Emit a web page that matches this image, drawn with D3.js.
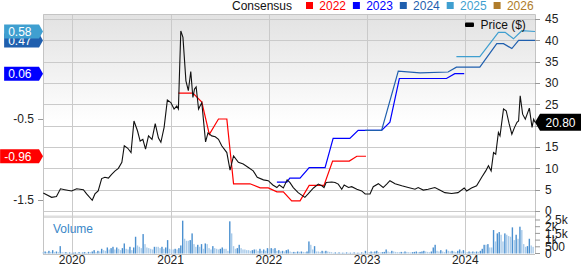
<!DOCTYPE html>
<html>
<head>
<meta charset="utf-8">
<script src="https://cdn.jsdelivr.net/npm/d3@7"></script>
<style>
	body { margin: 0; background: #fff; }
	svg { display: block; font-family: "Liberation Sans", Arial, sans-serif; }
	.tick-label { font-size: 12px; fill: #222; }
</style>
</head>
<body>
<div id="chart"></div>
<script>

///////////////////////////////////////////////////////////////////////////
//////////////////////////////// Data /////////////////////////////////////
///////////////////////////////////////////////////////////////////////////

var years = ["2022", "2023", "2024", "2025", "2026"];
var yearColors = ["#ff0000", "#0000ff", "#1f5fae", "#3f9fd0", "#b07c2a"];

//Weekly close
var priceData = [
	["2019-09-16",4.2],["2019-10-17",3.2],["2019-11-04",3.4],["2019-11-19",5.2],["2019-12-05",5.0],
	["2019-12-30",4.7],["2020-01-18",5.2],["2020-02-12",5.0],["2020-02-24",4.0],["2020-03-16",2.5],
	["2020-03-26",4.0],["2020-04-07",4.7],["2020-04-20",7.6],["2020-05-02",7.9],["2020-05-15",7.7],
	["2020-05-27",8.6],["2020-06-09",9.4],["2020-06-21",10.0],["2020-07-04",11.4],["2020-07-13",15.3],
	["2020-07-26",14.7],["2020-08-07",13.7],["2020-08-18",21.1],["2020-08-31",18.8],["2020-09-10",16.4],
	["2020-09-20",16.8],["2020-09-30",14.5],["2020-10-11",17.6],["2020-10-24",16.8],["2020-11-05",20.5],
	["2020-11-17",17.1],["2020-11-26",16.1],["2020-12-08",19.6],["2020-12-20",26.0],["2021-01-02",25.4],
	["2021-01-14",23.9],["2021-01-24",24.6],["2021-01-30",23.9],["2021-02-08",42.2],["2021-02-16",40.7],
	["2021-02-27",30.5],["2021-03-08",28.2],["2021-03-17",32.7],["2021-03-25",26.6],["2021-03-31",28.6],
	["2021-04-06",29.1],["2021-04-15",23.9],["2021-04-27",25.4],["2021-05-11",16.2],["2021-05-20",18.3],
	["2021-06-03",17.6],["2021-06-16",17.4],["2021-06-28",16.8],["2021-07-10",15.3],["2021-07-29",13.7],
	["2021-08-10",9.6],["2021-08-23",12.9],["2021-09-10",11.4],["2021-09-28",11.0],["2021-10-17",10.2],
	["2021-11-04",9.4],["2021-11-19",7.9],["2021-12-12",7.3],["2021-12-30",7.1],["2022-01-16",6.1],
	["2022-01-31",5.5],["2022-02-09",6.1],["2022-02-24",5.4],["2022-03-10",7.3],["2022-03-20",6.7],
	["2022-04-02",5.5],["2022-04-20",4.3],["2022-05-15",3.2],["2022-05-27",4.0],["2022-06-16",5.4],
	["2022-07-04",6.3],["2022-07-17",5.9],["2022-07-25",5.5],["2022-08-02",6.7],["2022-08-23",6.8],
	["2022-09-04",6.7],["2022-09-16",6.3],["2022-09-29",5.1],["2022-10-08",6.1],["2022-10-24",5.5],
	["2022-11-05",5.7],["2022-11-24",5.1],["2022-12-12",4.7],["2022-12-25",4.0],["2023-01-12",4.0],
	["2023-01-24",5.7],["2023-02-12",6.4],["2023-03-02",5.5],["2023-03-15",6.3],["2023-03-27",7.1],
	["2023-04-15",6.4],["2023-05-10",5.9],["2023-06-03",5.5],["2023-06-28",5.1],["2023-07-10",5.5],
	["2023-07-29",4.9],["2023-08-16",5.1],["2023-09-10",5.5],["2023-09-28",4.9],["2023-10-17",4.3],
	["2023-11-11",4.1],["2023-12-05",4.3],["2023-12-28",5.4],["2024-01-06",4.7],["2024-01-24",5.4],
	["2024-02-12",5.9],["2024-03-02",7.9],["2024-03-17",9.4],["2024-03-27",10.6],["2024-04-06",9.4],
	["2024-04-15",13.7],["2024-04-23",13.3],["2024-05-03",18.4],["2024-05-09",17.6],["2024-05-22",23.9],
	["2024-06-01",23.5],["2024-06-12",20.4],["2024-06-22",18.0],["2024-07-02",19.6],["2024-07-11",20.8],
	["2024-07-17",21.1],["2024-07-23",27.0],["2024-08-01",22.7],["2024-08-11",21.5],["2024-08-26",24.1],
	["2024-09-05",19.6],["2024-09-11",21.5],["2024-09-16",20.8]
];
var lastPrice = 20.80;

//Consensus EPS per fiscal year
var eps2022 = [
	["2021-01-30",-0.18],["2021-03-25",-0.18],["2021-04-27",-0.29],["2021-05-25",-0.69],["2021-06-28",-0.50],
	["2021-07-29",-0.50],["2021-08-23",-1.30],["2021-10-23",-1.30],["2021-11-30",-1.35],["2021-12-30",-1.35],
	["2022-01-31",-1.40],["2022-02-24",-1.40],["2022-03-27",-1.51],["2022-04-27",-1.51],["2022-05-31",-1.32],
	["2022-07-25",-1.32],["2022-08-26",-1.02],["2022-10-27",-1.02],["2022-11-24",-0.96],["2022-12-28",-0.96]
];
var eps2023 = [
	["2022-01-31",-1.28],["2022-03-09",-1.28],["2022-03-20",-1.23],["2022-04-27",-1.23],["2022-05-31",-1.10],
	["2022-07-29",-1.10],["2022-08-28",-0.74],["2022-10-29",-0.74],["2022-11-29",-0.64],["2023-02-24",-0.64],
	["2023-03-27",-0.54],["2023-05-01",0.00],["2023-10-23",0.00],["2023-11-23",0.06],["2023-12-28",0.06]
];
var eps2024 = [
	["2022-12-25",-0.64],["2023-02-24",-0.64],["2023-04-27",0.09],["2023-07-17",0.07],["2023-10-29",0.08],
	["2023-11-29",0.14],["2024-02-24",0.14],["2024-04-27",0.43],["2024-05-22",0.43],["2024-06-22",0.37],
	["2024-07-17",0.47],["2024-09-16",0.47]
];
var eps2025 = [
	["2023-11-29",0.27],["2024-02-24",0.27],["2024-05-03",0.57],["2024-05-28",0.57],["2024-06-28",0.49],
	["2024-07-29",0.59],["2024-09-16",0.58]
];
var eps2026 = [];

//Weekly volume (thousands), starting week of 2019-09-16
var volumeStart = "2019-09-16";
var volumeData = [
	0.1,0.15,0.1,0.2,0.12,0.25,0.1,0.15,0.1,0.55,0.1,0.08,0.1,0.06,0.08,0.05,0.06,0.08,0.05,0.1,
	0.06,0.08,0.1,0.05,0.12,0.1,0.15,0.25,0.1,0.2,0.15,0.35,0.25,0.2,0.45,0.3,0.4,0.5,0.3,0.45,
	0.35,0.25,0.4,0.75,0.35,0.3,0.5,0.25,0.45,1.25,0.6,0.5,0.4,1.45,0.7,0.45,0.4,0.35,0.3,0.5,
	0.5,0.5,0.4,0.5,0.35,0.45,1.0,0.35,0.3,0.3,0.35,0.3,0.4,0.6,2.45,1.1,0.95,0.95,1.0,1.5,
	0.7,0.5,0.65,0.5,0.7,0.35,0.75,0.7,0.4,0.3,0.55,0.4,0.35,0.3,0.35,0.45,0.35,0.35,0.2,2.4,
	1.5,0.55,0.35,0.4,0.65,0.4,0.3,0.3,0.25,0.25,0.2,0.25,0.3,0.3,0.2,0.35,0.2,0.3,0.2,0.4,
	0.35,0.4,0.35,0.4,0.2,0.25,0.15,0.2,0.15,0.25,0.3,0.15,0.1,0.12,0.1,0.15,0.12,0.15,0.12,0.1,
	0.15,0.9,0.65,0.3,0.55,0.15,0.15,0.12,0.2,0.15,0.2,0.15,0.12,0.1,0.05,0.08,0.05,0.08,0.05,0.06,
	0.05,0.08,0.05,0.06,0.05,0.08,0.05,0.06,0.05,0.08,0.05,0.2,0.1,0.1,0.15,0.12,0.15,0.2,0.1,0.08,
	0.1,0.12,0.3,0.15,0.1,0.2,0.15,0.12,0.1,0.1,0.12,0.1,0.15,0.12,0.1,0.08,0.1,0.12,0.15,0.1,
	0.12,0.15,0.2,0.15,0.12,0.1,0.15,0.45,0.65,0.2,0.15,0.25,0.15,0.1,0.3,0.2,0.15,0.2,0.15,0.1,
	0.2,0.3,0.15,0.25,0.15,0.1,0.15,0.12,0.15,0.12,0.15,0.12,0.2,0.35,0.65,0.65,0.7,0.45,0.45,1.75,
	0.9,1.5,1.6,1.4,0.9,1.5,1.4,1.3,1.25,1.95,1.0,1.4,1.1,2.0,1.75,0.7,0.5,0.55,1.1,0.6,0.5
];

var priceTicks = [0, 5, 10, 15, 20, 25, 30, 35, 40, 45];
var epsTicks = [-1.5, -0.5];
var epsTickLabels = ["-1.5", "-0.5"];
var volumeTicks = [0, 0.5, 1, 1.5, 2, 2.5];
var volumeTickLabels = ["0", "500", "1k", "1.5k", "2k", "2.5k"];

///////////////////////////////////////////////////////////////////////////
/////////////////////////////// Set-up SVG ////////////////////////////////
///////////////////////////////////////////////////////////////////////////

var width = 581;
var height = 265;
var left = 43, right = 535;
var mainTop = 14, mainBottom = 213;
var volTop = 218, volBottom = 254;

var parse = d3.timeParse("%Y-%m-%d");

var svg = d3.select("#chart")
	.append("svg")
	.attr("width", width)
	.attr("height", height);

var x = d3.scaleTime()
	.domain([parse("2019-09-15"), parse("2024-09-16")])
	.range([left, right]);

var yPrice = d3.scaleLinear().domain([0, 45]).range([211, 19]);
var yEps = d3.scaleLinear().domain([-1.5, -0.5]).range([200, 119]);
var yVol = d3.scaleLinear().domain([0, 2.5]).range([253.5, 220]);

//Background gradient of the price panel
var grad = svg.append("defs").append("linearGradient")
	.attr("id", "bg-grad")
	.attr("gradientUnits", "userSpaceOnUse")
	.attr("x1", 0).attr("x2", 0)
	.attr("y1", mainTop).attr("y2", mainBottom);
grad.append("stop").attr("offset", "0%").attr("stop-color", "#e2e2e2");
grad.append("stop").attr("offset", "55%").attr("stop-color", "#ffffff");

svg.append("rect")
	.attr("x", left).attr("y", mainTop)
	.attr("width", right - left).attr("height", mainBottom - mainTop)
	.style("fill", "url(#bg-grad)");

//Band between the two panels
svg.append("rect")
	.attr("x", left).attr("y", 215.5)
	.attr("width", right - left).attr("height", 2.5)
	.style("fill", "#dedede");

///////////////////////////////////////////////////////////////////////////
//////////////////////////////// Grid /////////////////////////////////////
///////////////////////////////////////////////////////////////////////////

svg.append("g")
	.selectAll("line")
	.data(priceTicks)
	.enter().append("line")
	.attr("x1", left).attr("x2", right)
	.attr("y1", function(d) { return Math.round(yPrice(d)) + 0.5; })
	.attr("y2", function(d) { return Math.round(yPrice(d)) + 0.5; })
	.style("stroke", "#cacaca");

var yearTicks = x.ticks(d3.timeYear.every(1));

svg.append("g")
	.selectAll("line")
	.data(yearTicks)
	.enter().append("line")
	.attr("x1", function(d) { return Math.round(x(d)) + 0.5; })
	.attr("x2", function(d) { return Math.round(x(d)) + 0.5; })
	.attr("y1", mainTop).attr("y2", volBottom)
	.style("stroke", "#cacaca");

//Frame
svg.append("path")
	.attr("d", "M" + (left + 0.5) + "," + volBottom + "V" + (mainTop + 0.5) + "H" + (right + 0.5) + "V" + volBottom)
	.style("fill", "none")
	.style("stroke", "#c4c4c4");
svg.append("line")
	.attr("x1", left).attr("x2", right)
	.attr("y1", volBottom + 0.5).attr("y2", volBottom + 0.5)
	.style("stroke", "#c4c4c4");

///////////////////////////////////////////////////////////////////////////
/////////////////////////////// Volume ////////////////////////////////////
///////////////////////////////////////////////////////////////////////////

var volStartDate = parse(volumeStart);

svg.append("g")
	.selectAll("rect")
	.data(volumeData)
	.enter().append("rect")
	.attr("x", function(d, i) { return x(d3.timeWeek.offset(volStartDate, i)) - 0.7; })
	.attr("y", function(d) { return yVol(d); })
	.attr("width", 1.4)
	.attr("height", function(d) { return yVol(0) - yVol(d); })
	.style("fill", function(d, i) { return i > 0 && d > volumeData[i - 1] ? "#4b90d0" : "#a9cbea"; });

svg.append("text")
	.attr("x", 53)
	.attr("y", 233)
	.style("font-size", "12px")
	.style("fill", "#3a87c8")
	.text("Volume");

///////////////////////////////////////////////////////////////////////////
///////////////////////////// Consensus lines /////////////////////////////
///////////////////////////////////////////////////////////////////////////

var epsSeries = [eps2022, eps2023, eps2024, eps2025, eps2026];

var epsLine = d3.line()
	.x(function(d) { return x(parse(d[0])); })
	.y(function(d) { return yEps(d[1]); });

epsSeries.forEach(function(s, i) {
	if (!s.length) return;
	svg.append("path")
		.datum(s)
		.attr("d", epsLine)
		.style("fill", "none")
		.style("stroke", yearColors[i])
		.style("stroke-width", 1.2);
});

///////////////////////////////////////////////////////////////////////////
//////////////////////////////// Price ////////////////////////////////////
///////////////////////////////////////////////////////////////////////////

var priceLine = d3.line()
	.x(function(d) { return x(parse(d[0])); })
	.y(function(d) { return yPrice(d[1]); });

svg.append("path")
	.datum(priceData)
	.attr("d", priceLine)
	.style("fill", "none")
	.style("stroke", "#111")
	.style("stroke-width", 1.1);

///////////////////////////////////////////////////////////////////////////
//////////////////////////////// Axes /////////////////////////////////////
///////////////////////////////////////////////////////////////////////////

var py = yPrice(lastPrice);

//Right price axis (labels under the price flag are hidden, as in the original)
var rightAxis = svg.append("g");
rightAxis.selectAll("line")
	.data(priceTicks)
	.enter().append("line")
	.attr("x1", right).attr("x2", right + 5)
	.attr("y1", function(d) { return Math.round(yPrice(d)) + 0.5; })
	.attr("y2", function(d) { return Math.round(yPrice(d)) + 0.5; })
	.style("stroke", "#999");
rightAxis.selectAll("text")
	.data(priceTicks.filter(function(d) { return Math.abs(yPrice(d) - py) > 10; }))
	.enter().append("text")
	.attr("class", "tick-label")
	.attr("x", right + 10)
	.attr("y", function(d) { return yPrice(d); })
	.attr("dy", "0.35em")
	.text(function(d) { return d; });

//Right volume axis
var volAxis = svg.append("g");
volAxis.selectAll("line")
	.data(volumeTicks)
	.enter().append("line")
	.attr("x1", right).attr("x2", right + 5)
	.attr("y1", function(d) { return yVol(d); })
	.attr("y2", function(d) { return yVol(d); })
	.style("stroke", "#999");
volAxis.selectAll("text")
	.data(volumeTicks)
	.enter().append("text")
	.attr("class", "tick-label")
	.attr("x", right + 10)
	.attr("y", function(d) { return yVol(d); })
	.attr("dy", "0.35em")
	.text(function(d, i) { return volumeTickLabels[i]; });

//Left EPS axis
var leftAxis = svg.append("g");
leftAxis.selectAll("line")
	.data(epsTicks)
	.enter().append("line")
	.attr("x1", left - 5).attr("x2", left)
	.attr("y1", function(d) { return Math.round(yEps(d)) + 0.5; })
	.attr("y2", function(d) { return Math.round(yEps(d)) + 0.5; })
	.style("stroke", "#999");
leftAxis.selectAll("text")
	.data(epsTicks)
	.enter().append("text")
	.attr("class", "tick-label")
	.attr("x", left - 9)
	.attr("y", function(d) { return yEps(d); })
	.attr("dy", "0.35em")
	.style("text-anchor", "end")
	.text(function(d, i) { return epsTickLabels[i]; });

//Bottom year axis
svg.append("g")
	.selectAll("text")
	.data(yearTicks)
	.enter().append("text")
	.attr("class", "tick-label")
	.attr("x", function(d) { return x(d); })
	.attr("y", 264)
	.style("text-anchor", "middle")
	.text(d3.timeFormat("%Y"));

///////////////////////////////////////////////////////////////////////////
//////////////////////////// Value flags //////////////////////////////////
///////////////////////////////////////////////////////////////////////////

epsSeries.forEach(function(s, i) {
	if (!s.length) return;
	var v = s[s.length - 1][1];
	var cy = yEps(v);
	var g = svg.append("g");
	var path = g.append("path");
	var t = g.append("text")
		.attr("x", 31.5)
		.attr("y", cy)
		.attr("dy", "0.36em")
		.style("text-anchor", "end")
		.style("font-size", "12px")
		.style("fill", "#fff")
		.text(v.toFixed(2));
	var x0 = 31.5 - t.node().getComputedTextLength() - 4;
	path.attr("d", "M" + x0 + "," + (cy - 7) + "H39L43," + cy + "L39," + (cy + 7) + "H" + x0 + "Z")
		.style("fill", yearColors[i]);
});

svg.append("path")
	.attr("d", "M" + right + "," + py + "L" + (right + 5) + "," + (py - 8.5) + "H" + width + "V" + (py + 8.5) + "H" + (right + 5) + "Z")
	.style("fill", "#000");
svg.append("text")
	.attr("x", 545.5)
	.attr("y", py)
	.attr("dy", "0.36em")
	.style("font-size", "12px")
	.style("fill", "#fff")
	.text(lastPrice.toFixed(2));

///////////////////////////////////////////////////////////////////////////
/////////////////////////////// Legends ///////////////////////////////////
///////////////////////////////////////////////////////////////////////////

svg.append("text")
	.attr("x", 232)
	.attr("y", 9.5)
	.style("font-size", "12px")
	.style("fill", "#111")
	.text("Consensus");

var legend = svg.append("g")
	.selectAll("g")
	.data(years)
	.enter().append("g")
	.attr("transform", function(d, i) { return "translate(" + (306 + i * 46.9) + ",0)"; });
legend.append("rect")
	.attr("x", 0).attr("y", 2)
	.attr("width", 7).attr("height", 7)
	.style("fill", function(d, i) { return yearColors[i]; });
legend.append("text")
	.attr("x", 13.3)
	.attr("y", 9.5)
	.style("font-size", "12px")
	.style("fill", function(d, i) { return yearColors[i]; })
	.text(function(d) { return d; });

svg.append("rect")
	.attr("x", 465).attr("y", 22.5)
	.attr("width", 9).attr("height", 4.5)
	.attr("rx", 1)
	.style("fill", "#000");
svg.append("text")
	.attr("x", 480.5)
	.attr("y", 29)
	.style("font-size", "12px")
	.style("fill", "#111")
	.text("Price ($)");

</script>
</body>
</html>
